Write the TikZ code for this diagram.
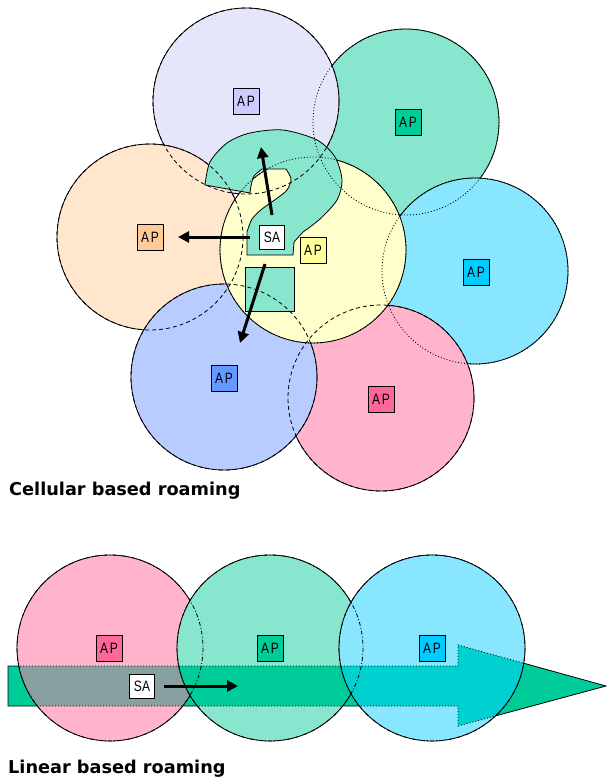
\documentclass[tikz,border=0pt]{standalone}
\usepackage{fontspec}
\usetikzlibrary{arrows.meta}
\newfontfamily\captionfont{DejaVu Sans}
\newfontfamily\boxfont{Liberation Sans}

% cell fills and access point colours
\definecolor{lavCell}{HTML}{E6E6FA}\definecolor{lavBox}{HTML}{CCCCFF}
\definecolor{grnCell}{HTML}{88E6CE}\definecolor{grnBox}{HTML}{00CC99}
\definecolor{pchCell}{HTML}{FFE6CC}\definecolor{pchBox}{HTML}{FFCC99}
\definecolor{ylwCell}{HTML}{FFFFCC}\definecolor{ylwBox}{HTML}{FFFF99}
\definecolor{cyaCell}{HTML}{88E6FF}\definecolor{cyaBox}{HTML}{00CCFF}
\definecolor{bluCell}{HTML}{B8CCFF}\definecolor{bluBox}{HTML}{6699FF}
\definecolor{pnkCell}{HTML}{FFB4CC}\definecolor{pnkBox}{HTML}{FF6699}
% path band seen through the cells
\definecolor{bandGreen}{HTML}{00CC99}
\definecolor{bandPink}{HTML}{88A0A0}
\definecolor{bandCyan}{HTML}{00D0D0}

\newcommand\APlabel{\scalebox{0.8}[1]{A\kern2pt P}}
\newcommand\SAlabel{\scalebox{0.8}[1]{SA}}
\newcommand\roamband{(8,666) -- (458,666) -- (458,645) -- (606,686) -- (458,726) -- (458,706) -- (8,706) -- cycle}

\tikzset{
  cellline/.style={draw=black, line width=0.8pt},
  hidedash/.style={draw=black, line width=0.8pt, dash pattern=on 4pt off 3pt},
  hidedot/.style={draw=black, line width=0.8pt, dash pattern=on 1pt off 2pt},
  hidedashdot/.style={draw=black, line width=0.8pt, dash pattern=on 4pt off 2pt on 1pt off 2pt},
  apbox/.style={draw=black, line width=0.8pt, minimum width=26pt, minimum height=26pt,
                inner sep=0pt, font=\boxfont\fontsize{15}{15}\selectfont},
  sabox/.style={apbox, fill=white, minimum width=25pt, minimum height=24pt},
  motion/.style={line width=3pt, -{Triangle[length=11pt,width=11pt]}},
  caption/.style={anchor=base west, inner sep=0pt,
                  font=\captionfont\bfseries\fontsize{17.7}{20}\selectfont},
}

\begin{document}
\begin{tikzpicture}[x=1pt,y=-1pt]
\useasboundingbox (0,0) rectangle (606,779);

% ---------------- cellular roaming: cells, back to front ----------------
\path[cellline, fill=grnCell] (406,122) circle[radius=93];
\path[cellline, fill=lavCell] (246,101) circle[radius=93];
\path[cellline, fill=pchCell] (150,237) circle[radius=93];
\path[cellline, fill=cyaCell] (475,271) circle[radius=93];
\path[cellline, fill=pnkCell] (381,398) circle[radius=93];
\path[cellline, fill=bluCell] (224,377) circle[radius=93];
\path[cellline, fill=ylwCell] (313,250) circle[radius=93];

% question-mark shaped hand-off zone and its dot
\path[cellline, fill=grnCell]
  (247,255) -- (247,232)
  -- plot[smooth] coordinates {(247,232) (252,219) (262,209) (276,199) (287,190) (291,179) (286,169)}
  -- (262,169)
  -- plot[smooth] coordinates {(262,169) (254,176) (251,186) (250,193)}
  -- (205,185)
  -- plot[smooth] coordinates {(205,185) (210,162) (227,143) (250,133) (283,130) (317,140)
                               (335,157) (342,180) (337,200) (320,219) (303,232)}
  -- (294,242) -- (293,255) -- cycle;
\path[cellline, fill=grnCell] (245,267) rectangle (294,311);

% hidden cell borders
\path[hidedot]     (406,122) circle[radius=93];
\path[hidedash]    (246,101) circle[radius=93];
\path[hidedash]    (150,237) circle[radius=93];
\path[hidedot]     (475,271) circle[radius=93];
\path[hidedash]    (381,398) circle[radius=93];
\path[hidedash]    (224,377) circle[radius=93];
\path[hidedot]     (313,250) circle[radius=93];

% access points
\node[apbox, fill=lavBox] (apLav) at (246,101) {\APlabel};
\node[apbox, fill=grnBox] (apGrn) at (408,122) {\APlabel};
\node[apbox, fill=pchBox] (apPch) at (150,237) {\APlabel};
\node[apbox, fill=ylwBox] (apYlw) at (313,250) {\APlabel};
\node[apbox, fill=cyaBox] (apCya) at (476,272) {\APlabel};
\node[apbox, fill=bluBox] (apBlu) at (224,378) {\APlabel};
\node[apbox, fill=pnkBox] (apPnk) at (381,399) {\APlabel};
\node[sabox] (saCell) at (272,237) {\SAlabel};

% station moves
\coordinate (upFrom) at (272,215);  \coordinate (upTo) at (261,147);
\coordinate (lfFrom) at (250,237);  \coordinate (lfTo) at (178,237);
\coordinate (dnFrom) at (265,264);  \coordinate (dnTo) at (240,343);
\draw[motion] (upFrom) -- (upTo);
\draw[motion] (lfFrom) -- (lfTo);
\draw[motion] (dnFrom) -- (dnTo);

\node[caption] (capCell) at (9,495) {Cellular based roaming};

% ---------------- linear roaming ----------------
\path[cellline, fill=bandGreen] \roamband;

\path[fill=pnkCell] (110,648) circle[radius=93];
\begin{scope}
  \clip (110,648) circle[radius=93];
  \path[fill=bandPink, hidedot] \roamband;
\end{scope}
\path[cellline] (110,648) circle[radius=93];

\path[fill=grnCell] (270,648) circle[radius=93];
\begin{scope}
  \clip (270,648) circle[radius=93];
  \path[fill=bandGreen, hidedot] \roamband;
\end{scope}
\path[cellline] (270,648) circle[radius=93];

\path[fill=cyaCell] (432,648) circle[radius=93];
\begin{scope}
  \clip (432,648) circle[radius=93];
  \path[fill=bandCyan, hidedot] \roamband;
\end{scope}
\path[cellline] (432,648) circle[radius=93];

\path[hidedashdot] (110,648) circle[radius=93];
\path[hidedashdot] (270,648) circle[radius=93];
\path[hidedashdot] (432,648) circle[radius=93];

\node[apbox, fill=pnkBox] (apLin1) at (109,648) {\APlabel};
\node[apbox, fill=grnBox] (apLin2) at (270,648) {\APlabel};
\node[apbox, fill=cyaBox] (apLin3) at (432,648) {\APlabel};
\node[sabox] (saLin) at (142,686) {\SAlabel};

\coordinate (linTo) at (238,686);
\draw[motion] ([xshift=9pt]saLin.east) -- (linTo);

\node[caption] (capLin) at (8,773) {Linear based roaming};
\end{tikzpicture}
\end{document}
